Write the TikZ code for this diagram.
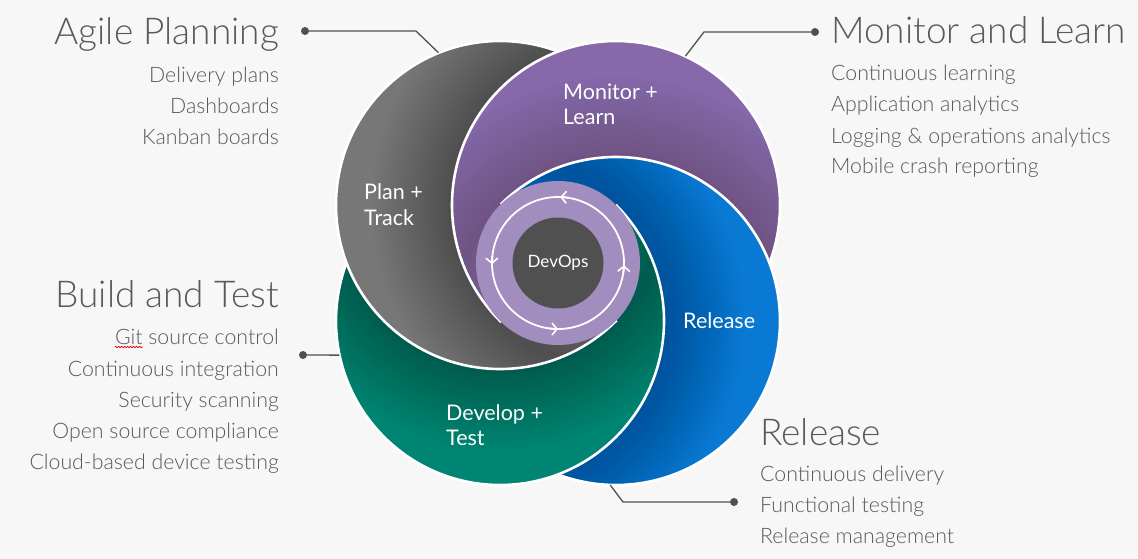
\documentclass[tikz,border=0pt]{standalone}
\usepackage{fontspec}
\setmainfont{Lato}
\newfontfamily\lightfont{Lato Light}
\usetikzlibrary{arrows.meta,decorations.pathmorphing}

\definecolor{bgc}{HTML}{F7F7F7}
\definecolor{txtc}{HTML}{595959}
\definecolor{plangray}{HTML}{777777}
\definecolor{monpurple}{HTML}{8768AB}
\definecolor{relblue}{HTML}{0A79D4}
\definecolor{devgreen}{HTML}{008473}
\definecolor{ringc}{HTML}{A28DBF}
\definecolor{corec}{HTML}{505050}
\definecolor{leadc}{HTML}{505050}

% one coloured disc with its white rim
\newcommand\plate[2]{%
  \fill[#2] (#1) circle[radius=164];
  \draw[platerim] (#1) circle[radius=164];}
% soft shade along the rim of disc #1, laid onto disc #2 (inside its rim)
\newcommand\castshade[3]{%
  \begin{scope}
    \clip (#2) circle[radius=162.6];
    \foreach \k in {1,...,20}{%
      \fill[black, opacity=#3, even odd rule]
        (#1) circle[radius=164+4*\k] (#1) circle[radius=164-4*\k];}
  \end{scope}}
% quarter of the plane around the hub, between two angles
\newcommand\sectorclip[2]{\clip (C) -- +(#1:900) -- +(#2:900) -- cycle;}

\begin{document}
\begin{tikzpicture}[x=1pt,y=1pt,
  platerim/.style={white, line width=2.6pt},
  head/.style={font=\lightfont\fontsize{37}{42}\selectfont, text=txtc, inner sep=0pt},
  item/.style={font=\lightfont\fontsize{21.3}{25}\selectfont, text=txtc, inner sep=0pt},
  lbl/.style={font=\fontsize{21.5}{25}\selectfont, text=white, inner sep=0pt, align=left},
  leaddot/.style={circle, fill=leadc, minimum size=8pt, inner sep=0pt},
  lead/.style={draw=leadc, line width=1.3pt},
  zone/.style={circle, minimum size=328pt, inner sep=0pt},
  cyc/.style={white, line width=1.8pt},
  cyctip/.style={cyc, -{Straight Barb[length=5pt, width=12pt, line width=1.6pt]}}
]
\fill[bgc] (0,0) rectangle (1138,-559);
\useasboundingbox (0,0) rectangle (1138,-559);

\coordinate (C)  at (558,-263);
\coordinate (Gc) at (500,-205);
\coordinate (Pc) at (616,-205);
\coordinate (Bc) at (616,-321);
\coordinate (Nc) at (500,-321);

% shade strength per receiving disc
\def\onGray{0.015}
\def\onPurple{0.008}
\def\onBlue{0.011}
\def\onGreen{0.011}

% the four stage discs, stacked differently in each quarter;
% each quarter is flattened first so that its cut edge blends cleanly
\begin{scope}\sectorclip{44.5}{135.5}
 \begin{scope}[transparency group]
  \plate{Gc}{plangray}   \castshade{Pc}{Gc}{\onGray}
  \plate{Pc}{monpurple}  \castshade{Bc}{Pc}{\onPurple}
  \plate{Bc}{relblue}    \castshade{Nc}{Bc}{\onBlue}
 \end{scope}
\end{scope}
\begin{scope}\sectorclip{-45.5}{45.5}
 \begin{scope}[transparency group]
  \plate{Pc}{monpurple}  \castshade{Bc}{Pc}{\onPurple}
  \plate{Bc}{relblue}    \castshade{Nc}{Bc}{\onBlue}
  \plate{Nc}{devgreen}   \castshade{Gc}{Nc}{\onGreen}
 \end{scope}
\end{scope}
\begin{scope}\sectorclip{224.5}{315.5}
 \begin{scope}[transparency group]
  \plate{Bc}{relblue}    \castshade{Nc}{Bc}{\onBlue}
  \plate{Nc}{devgreen}   \castshade{Gc}{Nc}{\onGreen}
  \plate{Gc}{plangray}   \castshade{Pc}{Gc}{\onGray}
 \end{scope}
\end{scope}
\begin{scope}\sectorclip{134.5}{225.5}
 \begin{scope}[transparency group]
  \plate{Nc}{devgreen}   \castshade{Gc}{Nc}{\onGreen}
  \plate{Gc}{plangray}   \castshade{Pc}{Gc}{\onGray}
  \plate{Pc}{monpurple}  \castshade{Bc}{Pc}{\onPurple}
 \end{scope}
\end{scope}

\node[zone] (plan)    at (Gc) {};
\node[zone] (monitor) at (Pc) {};
\node[zone] (release) at (Bc) {};
\node[zone] (develop) at (Nc) {};

% hub
\node[circle, fill=ringc, minimum size=164pt, inner sep=0pt] (ring) at (C) {};
\draw[cyc] (ring.center) circle[radius=66];
\draw[cyctip] (ring.center) ++(81:66)  arc[start angle=81,  end angle=88,  radius=66];
\draw[cyctip] (ring.center) ++(174:66) arc[start angle=174, end angle=181, radius=66];
\draw[cyctip] (ring.center) ++(263:66) arc[start angle=263, end angle=270, radius=66];
\draw[cyctip] (ring.center) ++(-9:66)  arc[start angle=-9,  end angle=-2,  radius=66];
\node[circle, fill=corec, minimum size=91pt, inner sep=0pt, text=white,
      font=\fontsize{17}{20}\selectfont] (core) at (C) {DevOps};

% stage names inside the discs (anchored on the last line)
\node[lbl, anchor=base west] (plantxt)    at (364,-225) {Plan +\\Track};
\node[lbl, anchor=base west] (monitortxt) at (563,-125) {Monitor +\\Learn};
\node[lbl, anchor=base west] (releasetxt) at (683,-328) {Release};
\node[lbl, anchor=base west] (developtxt) at (446,-445) {Develop +\\Test};

% Agile Planning
\node[head, anchor=base east] (aghead) at (279,-45) {Agile Planning};
\node[item, anchor=base east] (ag1) at (279,-83)  {Delivery plans};
\node[item, anchor=base east] (ag2) at (279,-114) {Dashboards};
\node[item, anchor=base east] (ag3) at (279,-145) {Kanban boards};

% Monitor and Learn
\node[head, anchor=base west] (mlhead) at (831,-44) {Monitor and Learn};
\node[item, anchor=base west] (ml1) at (831,-81)  {Continuous learning};
\node[item, anchor=base west] (ml2) at (831,-112) {Application analytics};
\node[item, anchor=base west] (ml3) at (831,-143) {Logging \& operations analytics};
\node[item, anchor=base west] (ml4) at (831,-174) {Mobile crash reporting};

% Build and Test
\node[head, anchor=base east] (bthead) at (279,-307) {Build and Test};
\node[item, anchor=base east] (bt1) at (279,-344) {Git source control};
\node[item, anchor=base east] (bt2) at (279,-376) {Continuous integration};
\node[item, anchor=base east] (bt3) at (279,-407) {Security scanning};
\node[item, anchor=base east] (bt4) at (279,-438) {Open source compliance};
\node[item, anchor=base east] (bt5) at (279,-469) {Cloud-based device testing};
\draw[red!85!black, line width=0.6pt, decorate,
      decoration={zigzag, segment length=3pt, amplitude=0.8pt}]
  ([yshift=-3pt]bt1.base west) -- ++(28,0);

% Release
\node[head, anchor=base west] (rlhead) at (760,-445) {Release};
\node[item, anchor=base west] (rl1) at (760,-481) {Continuous delivery};
\node[item, anchor=base west] (rl2) at (760,-512) {Functional testing};
\node[item, anchor=base west] (rl3) at (760,-543) {Release management};

% leader lines
\node[leaddot] (agdot) at (305,-31) {};
\coordinate (agbend) at (416,-31);
\draw[lead] (agdot) -- (agbend) -- (plan.112);

\node[leaddot] (mldot) at (815,-32) {};
\coordinate (mlbend) at (704,-32);
\draw[lead] (mldot) -- (mlbend) -- (monitor.65);

\node[leaddot] (btdot) at (303,-355) {};
\draw[lead] (btdot) -- (develop.192);

\node[leaddot] (rldot) at (734,-502) {};
\coordinate (rlbend) at (623,-502);
\draw[lead] (rldot) -- (rlbend) -- (release.268);
\end{tikzpicture}
\end{document}
